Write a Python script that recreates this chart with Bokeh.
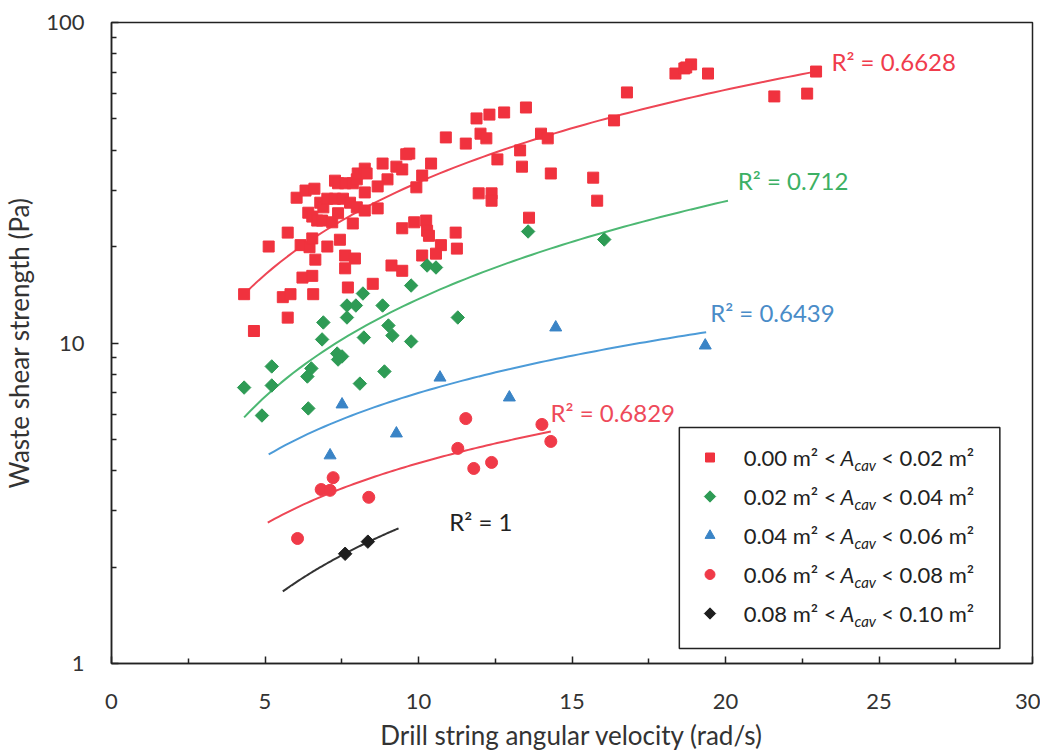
import numpy as np
from bokeh.plotting import figure
from bokeh.models import Range1d, FixedTicker, NumeralTickFormatter
from bokeh.core.properties import value
from bokeh.embed import file_html
from bokeh.resources import INLINE

# ---------------- data ----------------
# 0.00 < Acav < 0.02 m2 (red squares)
s1_x = [4.32, 4.64, 5.12, 5.74, 5.58, 5.83, 5.74, 6.03, 6.32, 6.61, 6.16, 6.45, 6.54, 6.22, 6.54,
        6.57, 6.41, 6.54, 6.70, 6.86, 6.80, 6.90, 7.03, 7.19, 7.38, 7.28, 7.38, 7.61, 7.86, 7.28,
        7.54, 7.77, 7.99, 8.02, 8.25, 8.31, 8.25, 7.99, 8.25, 8.67, 7.86, 7.03, 7.44, 6.64, 7.61,
        7.93, 7.61, 7.70, 8.51, 8.83, 9.28, 9.47, 8.99, 8.67, 9.70, 9.60, 10.41, 10.12, 9.93, 9.12,
        9.47, 9.47, 9.86, 10.25, 10.28, 10.34, 10.73, 10.57, 10.12, 11.21, 11.25, 10.89, 11.54, 12.02,
        12.21, 11.89, 12.31, 12.79, 13.50, 13.99, 14.21, 13.31, 12.57, 13.37, 14.31, 15.69, 15.82,
        11.96, 12.38, 12.38, 13.60, 16.37, 16.79, 18.37, 18.66, 18.88, 18.72, 19.43, 21.59, 22.66,
        22.95]
s1_y = [14.2, 10.9, 20.0, 22.1, 13.9, 14.2, 12.0, 28.4, 29.9, 30.3, 20.2, 19.9, 21.2, 16.0, 16.2,
        14.2, 25.5, 24.8, 24.1, 24.1, 27.4, 26.5, 28.2, 23.8, 25.4, 32.1, 31.5, 31.5, 31.5, 28.2,
        28.2, 27.4, 32.4, 33.8, 35.0, 33.8, 29.5, 26.5, 25.9, 26.3, 23.6, 20.0, 21.0, 18.2, 18.75,
        18.35, 17.1, 14.9, 15.3, 36.3, 35.5, 34.8, 32.4, 30.8, 39.0, 38.8, 36.3, 33.3, 30.6, 17.45,
        16.8, 22.8, 23.8, 24.1, 22.4, 21.6, 20.2, 19.0, 18.75, 22.1, 19.7, 43.8, 41.9, 45.0,
        43.5, 50.2, 51.6, 52.4, 54.3, 45.0, 43.5, 39.9, 37.4, 35.5, 33.8, 32.8, 27.8,
        29.3, 29.3, 27.8, 24.6, 49.5, 60.5, 69.3, 71.9, 74.0, 72.4, 69.3, 58.8, 60.0,
        70.3]

# 0.02 < Acav < 0.04 m2 (green diamonds)
s2_x = [4.32, 4.90, 5.22, 5.22, 6.38, 6.41, 6.51, 6.86, 6.90, 7.35, 7.51, 7.38, 7.67, 7.67, 7.96,
        8.09, 8.19, 8.22, 8.83, 8.89, 9.02, 9.15, 9.76, 9.76, 10.28, 10.57, 11.28, 13.57, 16.05]
s2_y = [7.26, 5.94, 8.45, 7.37, 7.86, 6.25, 8.33, 10.26, 11.59, 9.27, 9.08, 8.88, 13.09, 12.01, 13.09,
        7.47, 14.27, 10.40, 13.09, 8.15, 11.34, 10.55, 15.11, 10.11, 17.45, 17.2, 12.01, 22.28, 21.03]

# 0.04 < Acav < 0.06 m2 (blue triangles)
s3_x = [7.12, 7.51, 9.28, 10.70, 12.96, 14.47, 19.34]
s3_y = [4.46, 6.43, 5.22, 7.80, 6.76, 11.18, 9.82]

# 0.06 < Acav < 0.08 m2 (red circles)
s4_x = [6.06, 6.83, 7.12, 7.22, 8.38, 11.28, 11.54, 11.80, 12.38, 14.02, 14.31]
s4_y = [2.455, 3.49, 3.47, 3.80, 3.30, 4.69, 5.81, 4.06, 4.24, 5.57, 4.93]

# 0.08 < Acav < 0.10 m2 (black diamonds)
s5_x = [7.61, 8.35]
s5_y = [2.20, 2.40]

# power trend lines  y = a * x^b
trend_a = [3.495, 1.331, 1.528, 0.982, 0.371]
trend_b = [0.958, 1.013, 0.660, 0.633, 0.878]
trend_xmin = [4.32, 4.32, 5.12, 5.09, 5.58]
trend_xmax = [22.95, 20.08, 19.37, 14.31, 9.35]

r2_text = ["R\u00b2 = 0.6628", "R\u00b2 = 0.712", "R\u00b2 = 0.6439", "R\u00b2 = 0.6829", "R\u00b2 = 1"]
r2_x = [23.45, 20.4, 19.5, 14.3, 11.0]
r2_y = [75.5, 32.1, 12.45, 6.05, 2.77]

legend_lo = ["0.00", "0.02", "0.04", "0.06", "0.08"]
legend_hi = ["0.02", "0.04", "0.06", "0.08", "0.10"]

x_ticks = [0, 5, 10, 15, 20, 25, 30]
x_minor = [2.5, 7.5, 12.5, 17.5, 22.5, 27.5]
y_ticks = [1, 10, 100]

# ---------------- style ----------------
FONT = "Lato"
mk_colors = ["#F0323E", "#2E9B55", "#3A84C6", "#F03A48", "#1E1E1E"]
ln_colors = ["#EE4655", "#4DB873", "#4C9BD8", "#EE4655", "#333333"]
lb_colors = ["#F03C4C", "#3CB064", "#4A8CC8", "#EE4A5A", "#222222"]

W, H = 1040, 754
p = figure(width=W, height=H, y_axis_type="log",
           x_range=Range1d(0, 30), y_range=Range1d(1, 100),
           output_backend="svg", toolbar_location=None,
           min_border_left=101, min_border_right=8, min_border_top=22, min_border_bottom=91)
p.background_fill_color = "white"
p.border_fill_color = "white"
p.outline_line_color = "#222222"
p.outline_line_width = 1.5
p.xgrid.visible = False
p.ygrid.visible = False

xa = p.xaxis[0]
xa.ticker = FixedTicker(ticks=x_ticks, minor_ticks=x_minor)
xa.axis_label = "Drill string angular velocity (rad/s)"
ya = p.yaxis[0]
ya.ticker = FixedTicker(ticks=y_ticks, minor_ticks=[m * d for d in (1, 10) for m in range(2, 10)])
ya.formatter = NumeralTickFormatter(format="0")
ya.axis_label = "Waste shear strength (Pa)"
for ax in (xa, ya):
    ax.axis_line_color = "#222222"
    ax.axis_line_width = 1.5
    ax.major_tick_in = 7
    ax.major_tick_out = 0
    ax.minor_tick_in = 5
    ax.minor_tick_out = 0
    ax.major_tick_line_color = "#222222"
    ax.minor_tick_line_color = "#222222"
    ax.major_tick_line_width = 1.5
    ax.minor_tick_line_width = 1.5
    ax.major_label_text_font = FONT
    ax.major_label_text_font_size = "22px"
    ax.major_label_text_color = "#333333"
    ax.axis_label_text_font = FONT
    ax.axis_label_text_font_size = "26px"
    ax.axis_label_text_font_style = "normal"
    ax.axis_label_text_color = "#333333"
xa.major_label_standoff = 30
xa.axis_label_standoff = 7
ya.major_label_standoff = 27
ya.axis_label_standoff = 8

# trend lines
for a, b, x0, x1, c in zip(trend_a, trend_b, trend_xmin, trend_xmax, ln_colors):
    xs = np.linspace(x0, x1, 80)
    p.line(xs, a * xs ** b, line_color=c, line_width=2)

# markers
p.scatter(s1_x, s1_y, marker="square", size=11, color=mk_colors[0])
p.scatter(s2_x, s2_y, marker="square", angle=np.pi / 4, size=9.5, color=mk_colors[1])
p.scatter(s3_x, s3_y, marker="triangle", size=12, color=mk_colors[2])
p.scatter(s4_x, s4_y, marker="circle", size=12, color=mk_colors[3])
p.scatter(s5_x, s5_y, marker="square", angle=np.pi / 4, size=9.5, color=mk_colors[4])

# R2 labels
for t, x, y, c in zip(r2_text, r2_x, r2_y, lb_colors):
    p.text([x], [y], text=[t], text_color=c, text_font=value(FONT), text_font_size="24px",
           text_align="left", text_baseline="middle")

# ---------------- custom legend ----------------
FL, FR, FT, FB = 109, 1040, 22, 663  # page pixel positions of the frame


def px2x(px):
    return (px - FL) / (FR - FL) * 30


def px2y(py):
    return 10 ** ((FB - py) / (FB - FT) * 2)


p.quad(left=[px2x(683)], right=[px2x(1007)], top=[px2y(427)], bottom=[px2y(648)],
       fill_color="white", line_color="#222222", line_width=1.5)
rows = [457, 496, 535, 574, 613]
mk = [("square", 0, 9), ("square", np.pi / 4, 8), ("triangle", 0, 10), ("circle", 0, 10),
      ("square", np.pi / 4, 8)]
for i, (m, ang, sz) in enumerate(mk):
    yy = px2y(rows[i])
    p.scatter([px2x(714)], [yy], marker=m, angle=ang, size=sz, color=mk_colors[i])
    common = dict(text_color="#222222", text_font=value(FONT), text_baseline="middle", text_align="left")
    p.text([px2x(748)], [yy], text=[f"{legend_lo[i]} m\u00b2 <"], text_font_size="22px", **common)
    p.text([px2x(846)], [yy], text=["A"], text_font_size="22px", text_font_style="italic", **common)
    p.text([px2x(860)], [px2y(rows[i] + 7)], text=["cav"], text_font_size="15px",
           text_font_style="italic", **common)
    p.text([px2x(887)], [yy], text=[f"< {legend_hi[i]} m\u00b2"], text_font_size="22px", **common)

open("out.html", "w").write(file_html(p, INLINE))
